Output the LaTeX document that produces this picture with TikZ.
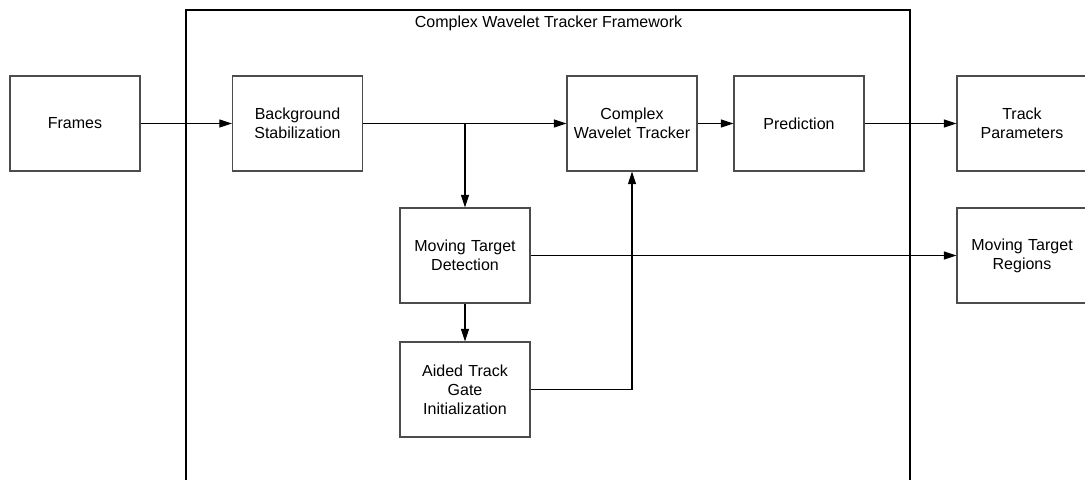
\documentclass[tikz,border=0pt]{standalone}
\usepackage{fontspec}
\setmainfont{Liberation Sans}
\usetikzlibrary{arrows.meta}
\begin{document}
\begin{tikzpicture}[x=0.75pt,y=-0.75pt,
  blk/.style={draw=black!70,line width=0.8pt,minimum width=97.5pt,minimum height=71.25pt,
    align=center,inner sep=2pt,text width=88pt,font=\fontsize{12}{14.2}\selectfont},
  flow/.style={draw=black,line width=0.8pt,-{Triangle[length=9.5pt,width=6pt]}},
  link/.style={draw=black,line width=0.8pt}]
\useasboundingbox (0,0) rectangle (1085,479);
% framework enclosure
\draw[line width=0.8pt] (186,520) -- (186,10) -- (910,10) -- (910,520);
\node[font=\fontsize{12}{14.2}\selectfont] (title) at (548.5,23) {Complex Wavelet Tracker Framework};
% blocks
\node[blk] (frames) at (75,123.5) {Frames};
\node[blk] (bs) at (297.5,123.5) {Background\\Stabilization};
\node[blk] (cwt) at (632,123.5) {Complex\\Wavelet Tracker};
\node[blk] (pred) at (799,123.5) {Prediction};
\node[blk] (tp) at (1022,123.5) {Track\\Parameters};
\node[blk] (mtd) at (465,255.5) {Moving Target\\Detection};
\node[blk] (mtr) at (1022,255.5) {Moving Target\\Regions};
\node[blk] (atgi) at (465,389.5) {Aided Track\\Gate\\Initialization};
\coordinate (split) at (mtd.north |- bs.east);
% connectors
\draw[flow] (frames) -- (bs);
\draw[flow] (bs) -- (cwt);
\draw[flow] (split) -- (mtd);
\draw[flow] (cwt) -- (pred);
\draw[flow] (pred) -- (tp);
\draw[flow] (mtd) -- (mtr);
\draw[flow] (mtd) -- (atgi);
\draw[flow] (atgi.east) -| (cwt.south);
\end{tikzpicture}
\end{document}
